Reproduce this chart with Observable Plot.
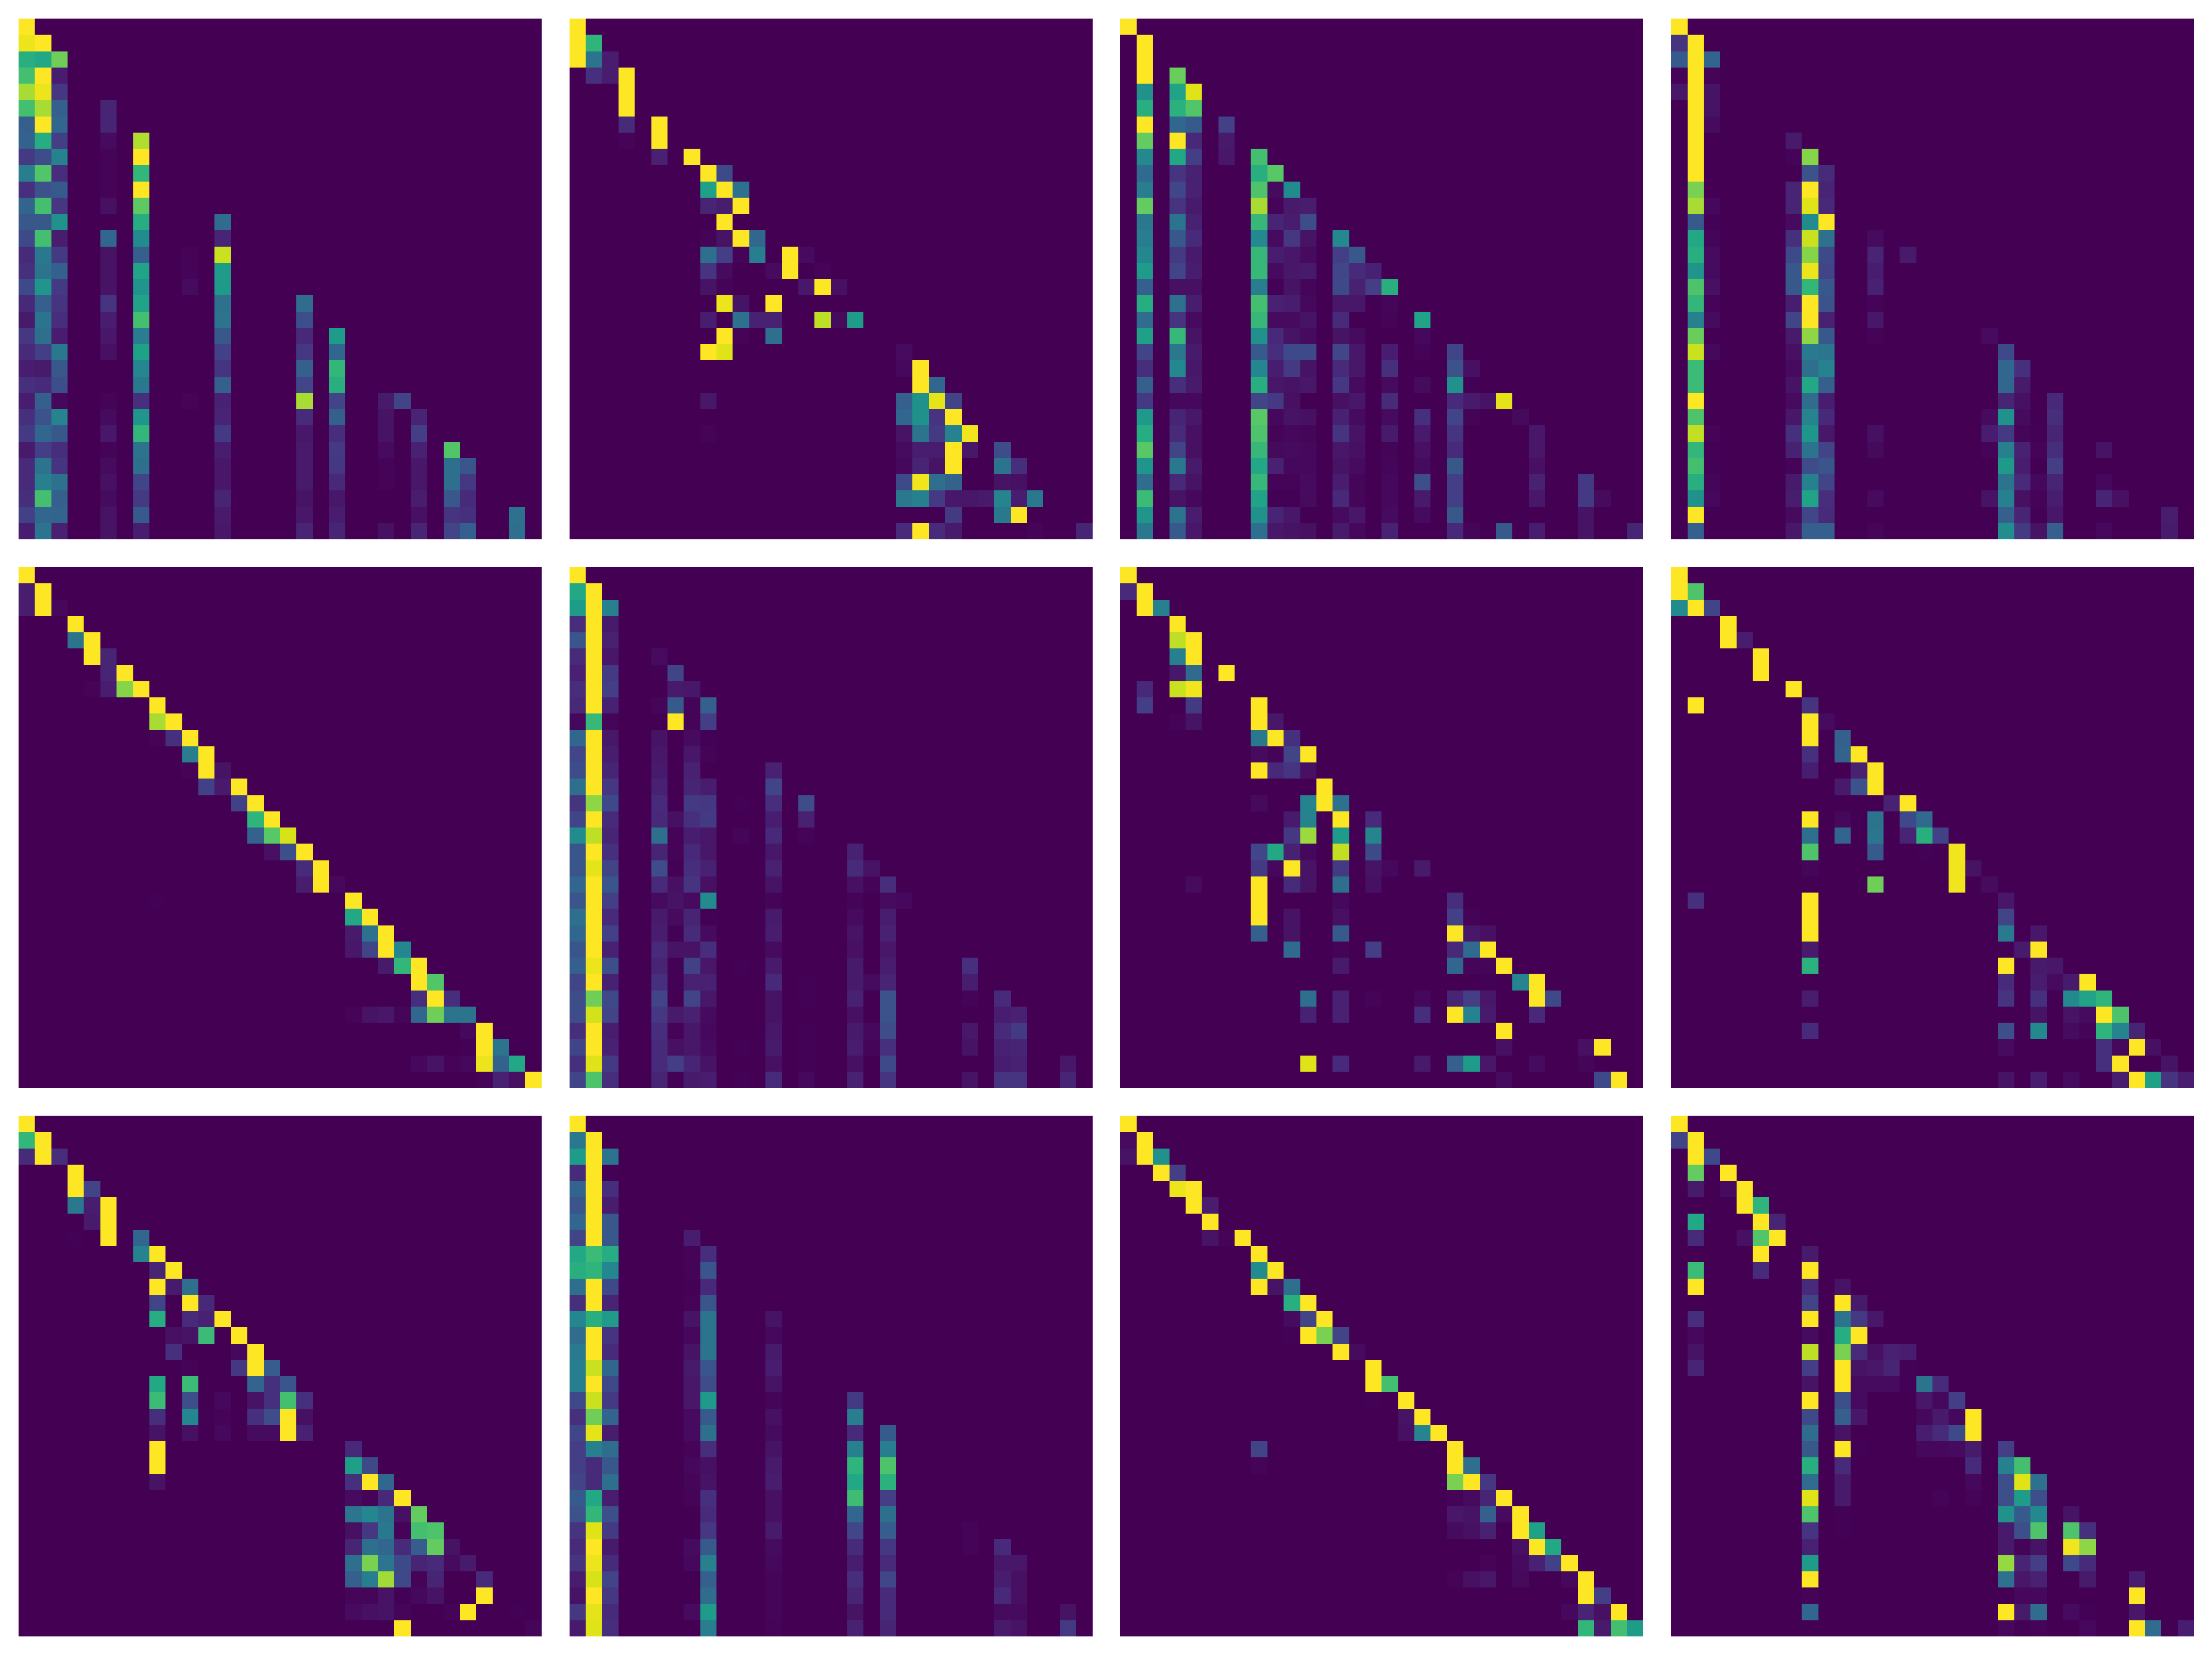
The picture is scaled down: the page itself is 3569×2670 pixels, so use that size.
<!DOCTYPE html>
<html>
<head>
<meta charset="utf-8">
<style>html,body{margin:0;padding:0;background:#fff}svg{display:block}</style>
<script src="https://cdn.jsdelivr.net/npm/d3@7"></script>
<script src="https://cdn.jsdelivr.net/npm/@observablehq/plot@0.6"></script>
</head>
<body>
<div id="chart"></div>
<script>
// Each row of a panel maps column index -> value (missing = 0).
const panel1 = [
{0:1},{0:.97,1:1},{0:.63,1:.6,2:.78},{0:.7,1:1,2:.08},{0:.87,1:.97,2:.16},
{0:.7,1:.87,2:.3,5:.1},{0:.3,1:1,2:.33,5:.1},{0:.31,1:.62,2:.18,5:.03,7:.88},
{0:.17,1:.23,2:.44,5:.01,7:1},{0:.42,1:.73,2:.13,5:.01,7:.66},{0:.14,1:.25,2:.28,5:.01,7:1},
{0:.32,1:.7,2:.16,5:.04,7:.75},{0:.27,1:.27,2:.5,7:.62,12:.35},{0:.22,1:.7,2:.08,5:.33,7:.48,12:.1},
{0:.12,1:.4,2:.17,5:.05,7:.3,10:.01,12:.92},{0:.14,1:.38,2:.3,5:.05,7:.58,10:.01,12:.55},
{0:.22,1:.52,2:.17,5:.05,7:.52,10:.03,12:.54},{0:.11,1:.3,2:.15,5:.15,7:.58,12:.37,17:.35},
{0:.07,1:.38,2:.13,5:.08,7:.7,12:.38,17:.24},{0:.16,1:.36,2:.08,5:.06,7:.42,12:.27,17:.11,19:.55},
{0:.12,1:.18,2:.4,5:.04,7:.57,12:.19,17:.16,19:.33},{0:.08,1:.07,2:.27,7:.46,12:.15,17:.3,19:.66},
{0:.14,1:.12,2:.24,7:.4,12:.3,17:.21,19:.63},{0:.08,1:.3,2:.02,5:.01,7:.14,10:.01,12:.09,17:.87,19:.2,22:.07,23:.2},
{0:.14,1:.25,2:.45,5:.03,7:.52,12:.1,17:.12,19:.3,22:.05,24:.1},{0:.17,1:.33,2:.27,5:.06,7:.66,12:.17,17:.06,19:.13,22:.05,24:.18},
{0:.07,1:.18,2:.13,5:.01,7:.38,12:.08,17:.07,19:.17,22:.03,24:.09,26:.73},{0:.12,1:.38,2:.15,5:.03,7:.36,12:.06,17:.07,19:.16,22:.01,24:.06,26:.36,27:.26},
{0:.12,1:.43,2:.37,5:.04,7:.2,12:.06,17:.07,19:.11,22:.01,24:.06,26:.36,27:.16},{0:.13,1:.7,2:.3,5:.03,7:.17,12:.1,17:.05,19:.06,24:.08,26:.27,27:.12},
{0:.19,1:.33,2:.32,5:.05,7:.28,12:.07,17:.06,19:.08,24:.04,26:.15,27:.14,30:.37},{0:.08,1:.38,2:.09,5:.05,7:.08,12:.06,17:.1,19:.1,22:.04,24:.1,26:.2,27:.3,30:.36}
];
const panel2 = [
{0:1},{0:1,1:.65},{0:1,1:.38,2:.08},{1:.14,2:.08,3:1},{3:1},{3:1},{3:.12,5:1},{3:.01,5:1},{5:.09,7:1},
{8:1,9:.22},{8:.57,9:1,10:.37},{8:.1,9:.08,10:1},{9:1},{8:.01,9:.05,10:1,11:.33},
{8:.36,9:.18,10:.01,11:.42,13:1,14:.03},{8:.15,9:.03,12:.03,13:1,15:.01},{8:.05,9:.01,14:.06,15:1,16:.04},
{9:.97,10:.05,12:1},{8:.08,10:.37,11:.09,12:.09,15:.9,16:.03,17:.55},{9:1,10:.01,12:.36},{8:1,9:.95,20:.03},
{20:.02,21:1},{21:1,22:.33},{8:.06,20:.3,21:.5,22:.96,23:.2},{20:.33,21:.5,22:.15,23:1},
{8:.01,20:.05,21:.38,22:.17,23:.44,24:.98},{20:.03,21:.08,22:.08,23:1,24:.06,26:.23},{20:.02,21:.1,22:.05,23:1,26:.38,27:.13},
{20:.22,21:.98,22:.36,23:.31,26:.05,27:.04},{20:.4,21:.43,22:.17,23:.06,24:.06,25:.07,26:.45,27:.08,28:.4},
{23:.17,26:.4,27:1},{20:.12,21:1,22:.12,23:.07,28:.01,31:.1}
];
const panel3 = [
{0:1},{1:1},{1:1},{1:1,3:.77},{1:.5,3:.58,4:.95},{1:.63,3:.64,4:.73},{1:1,3:.33,4:.28,6:.19},{1:.76,3:1,4:.11,6:.07},
{1:.47,3:.6,4:.18,6:.06,8:.7},{1:.34,3:.15,4:.09,8:.63,9:.74},{1:.42,3:.21,4:.09,8:.72,9:.03,10:.48},
{1:.76,3:.15,4:.07,8:.87,9:.01,10:.07,11:.08},{1:.4,3:.38,4:.09,8:.67,9:.1,10:.08,11:.23},
{1:.42,3:.27,4:.12,8:.47,9:.03,10:.16,11:.05,13:.47},{1:.46,3:.17,4:.07,8:.67,9:.08,10:.06,11:.03,13:.18,14:.27},
{1:.55,3:.2,4:.08,8:.67,9:.03,10:.06,11:.07,13:.21,14:.12,15:.09},{1:.3,3:.04,4:.04,8:.42,9:.005,10:.05,11:.015,13:.22,14:.09,15:.18,16:.63},
{1:.62,3:.37,4:.08,8:.7,9:.09,10:.08,11:.02,13:.06,14:.06,16:.015},{1:.35,3:.15,4:.03,8:.67,9:.03,10:.03,11:.05,13:.12,16:.01,18:.58},
{1:.57,3:.67,4:.05,8:.5,9:.11,10:.05,11:.03,13:.05,14:.03,18:.02},{1:.2,3:.4,4:.07,8:.28,9:.13,10:.22,11:.22,13:.21,14:.06,16:.08,18:.01,20:.2},
{1:.13,3:.47,4:.06,8:.46,9:.08,10:.17,11:.05,13:.12,14:.06,16:.14,20:.25,21:.04},{1:.3,3:.13,4:.07,8:.63,9:.06,10:.05,11:.06,13:.16,14:.03,16:.03,18:.03,20:.5,21:.005},
{1:.17,3:.02,4:.02,8:.2,9:.17,10:.04,13:.04,14:.06,16:.12,20:.12,21:.07,22:.05,23:.96},{1:.54,3:.1,4:.06,8:.74,9:.02,10:.05,11:.04,13:.09,14:.03,16:.03,18:.14,20:.2,21:.01,24:.025},
{1:.62,3:.12,4:.04,8:.72,9:.01,10:.02,11:.015,13:.15,14:.05,16:.07,18:.07,20:.15,25:.06},{1:.74,3:.2,4:.04,8:.67,9:.025,10:.03,11:.02,13:.06,14:.04,16:.01,18:.04,20:.12,25:.06},
{1:.52,3:.4,4:.07,8:.6,9:.09,10:.02,11:.02,13:.05,14:.03,16:.015,18:.03,20:.27,25:.04},{1:.35,3:.11,4:.05,8:.67,9:.01,10:.01,11:.03,13:.08,14:.015,16:.02,18:.24,20:.18,25:.09,28:.17},
{1:.68,3:.05,4:.02,8:.58,9:.005,10:.005,11:.03,13:.11,14:.015,16:.02,18:.07,20:.18,25:.06,28:.17,29:.03},{1:.52,3:.38,4:.08,8:.5,9:.1,10:.06,13:.03,14:.06,16:.03,18:.03,20:.27,28:.05},
{1:.4,3:.28,4:.06,8:.36,9:.06,10:.05,11:.04,13:.07,14:.02,16:.09,20:.11,21:.015,23:.28,25:.08,28:.05,31:.1}
];
const panel4 = [
{0:1},{0:.15,1:1},{0:.28,1:1,2:.32},{0:.01,1:1,2:.01},{0:.06,1:1,2:.05},{1:1,2:.05},{1:1,2:.03},{1:1,7:.07},{1:1,7:.01,8:.82},{1:1,8:.25,9:.12},
{1:.8,7:.1,8:1,9:.1},{1:.87,2:.02,7:.1,8:.95,9:.11},{1:.28,2:.005,7:.03,8:.48,9:1},{1:.6,2:.015,7:.14,8:.92,9:.37,12:.03},
{1:.63,2:.03,7:.22,8:.82,9:.22,12:.1,14:.07},{1:.52,2:.03,7:.27,8:.97,9:.2,12:.08},{1:.72,2:.04,7:.27,8:.66,9:.27,12:.09},
{1:.66,2:.01,7:.08,8:1,9:.25,12:.01},{1:.43,2:.03,7:.2,8:1,9:.09,12:.06},{1:.77,7:.07,8:.83,9:.27,12:.01,19:.03},
{1:.92,2:.02,7:.04,8:.41,9:.39,20:.22},{1:.68,7:.03,8:.36,9:.44,20:.33,21:.14},{1:.68,7:.05,8:.6,9:.3,20:.33,21:.07},
{1:1,7:.03,8:.35,9:.08,20:.1,21:.04,23:.11},{1:.72,7:.06,8:.45,9:.11,19:.03,20:.5,21:.03,23:.13},
{1:.91,2:.01,7:.14,8:.52,9:.06,12:.04,19:.08,20:.17,21:.015,22:.005,23:.1},{1:.66,2:.005,7:.09,8:.38,9:.2,12:.025,19:.01,20:.43,21:.09,22:.01,23:.13,26:.05},
{1:.7,2:.005,7:.01,8:.23,9:.26,20:.54,21:.08,23:.18},{1:.63,2:.015,7:.07,8:.43,9:.2,20:.38,21:.12,22:.02,23:.1,26:.02},
{1:.5,2:.02,7:.08,8:.58,9:.13,12:.03,19:.05,20:.43,21:.04,22:.01,23:.08,26:.1,27:.04},{1:1,7:.03,8:.21,9:.12,20:.3,21:.1,22:.005,23:.06,30:.08},
{1:.3,7:.06,8:.3,9:.3,12:.015,20:.49,21:.17,22:.05,23:.3,26:.02,30:.07}
];
const panel5 = [
{0:1},{0:.08,1:1},{0:.08,1:1,2:.02},{3:1},{3:.38,4:1},{4:1,5:.1},{5:.1,6:1},{4:.01,5:.08,6:.82,7:1},{8:1},{8:.87,9:1},
{8:.01,9:.14,10:1},{10:.42,11:1},{10:.01,11:1,12:.05},{11:.19,12:.07,13:1},{13:.19,14:1},{14:.65,15:1},{14:.31,15:.74,16:.94},
{15:.04,16:.24,17:1},{17:.12,18:1},{17:.08,18:1,19:.02},{8:.005,20:1},{20:.6,21:1},{20:.07,21:.37,22:1},{20:.06,21:.2,22:1,23:.46},
{22:.07,23:.66,24:1},{24:1,25:.73},{24:.13,25:1,26:.13},{20:.01,21:.05,22:.06,23:.015,24:.33,25:.78,26:.38,27:.38},
{27:.02,28:1},{27:.005,28:1,29:.38},{24:.02,25:.05,26:.01,27:.02,28:.97,29:.31,30:.6},{28:.01,29:.09,30:.04,31:1}
];
const panel6 = [
{0:1},{0:.6,1:1},{0:.55,1:1,2:.43},{0:.13,1:1,2:.07},{0:.26,1:1,2:.09},{0:.12,1:1,2:.06,5:.03},{0:.09,1:1,2:.17,5:.005,6:.2},
{0:.13,1:1,2:.18,6:.07,7:.06},{0:.11,1:1,2:.09,5:.015,6:.28,7:.01,8:.3},{0:.02,1:.67,2:.015,6:1,7:.01,8:.18},
{0:.33,1:1,2:.06,5:.05,7:.03,8:.005},{0:.21,1:1,2:.08,5:.06,7:.06,8:.01},{0:.23,1:1,2:.1,5:.07,7:.09,12:.09},
{0:.36,1:1,2:.16,5:.09,7:.1,8:.08,12:.2},{0:.15,1:.83,2:.22,5:.12,7:.17,8:.16,10:.005,12:.13,14:.23},
{0:.2,1:1,2:.12,5:.11,6:.04,7:.14,8:.17,12:.08,14:.09},{0:.48,1:.9,2:.1,5:.36,6:.01,7:.08,8:.06,10:.015,12:.11,14:.01},
{0:.26,1:1,2:.14,5:.1,6:.01,7:.11,8:.06,12:.06,17:.09},{0:.26,1:.96,2:.2,5:.23,6:.005,7:.13,8:.09,12:.09,17:.12,18:.05},
{0:.33,1:1,2:.26,5:.12,6:.04,7:.15,8:.04,12:.05,17:.04,18:.01,19:.13},{0:.26,1:1,2:.18,5:.03,6:.05,7:.03,8:.48,12:.01,17:.01,19:.03,20:.02},
{0:.36,1:1,2:.12,5:.07,6:.03,7:.1,8:.005,12:.07,17:.03,19:.08},{0:.33,1:1,2:.19,5:.08,6:.005,7:.12,8:.03,12:.08,17:.05,19:.09},
{0:.26,1:1,2:.09,5:.12,6:.05,7:.05,8:.13,12:.03,17:.04,19:.06},{0:.3,1:.97,2:.24,5:.1,6:.005,7:.19,8:.06,10:.005,12:.07,17:.07,19:.08,24:.14},
{0:.2,1:1,2:.09,5:.14,6:.005,7:.09,8:.09,12:.11,14:.005,17:.07,18:.03,19:.1,24:.08},{0:.23,1:.78,2:.22,5:.2,7:.2,8:.06,12:.05,14:.005,17:.09,19:.25,24:.01,26:.12},
{0:.23,1:.93,2:.2,5:.16,6:.07,7:.09,8:.03,12:.05,17:.04,19:.25,26:.08,27:.09},{0:.13,1:1,2:.08,5:.13,6:.01,7:.06,8:.02,12:.06,14:.005,17:.07,18:.02,19:.23,24:.06,26:.12,27:.17},
{0:.2,1:1,2:.09,5:.12,6:.04,7:.06,8:.03,10:.005,12:.07,14:.005,17:.08,18:.015,19:.14,24:.05,26:.09,27:.1},
{0:.14,1:.95,2:.17,5:.12,6:.18,7:.1,8:.05,12:.04,14:.005,17:.04,19:.22,26:.08,27:.09,30:.06},
{0:.2,1:.72,2:.13,5:.1,6:.005,7:.07,8:.08,10:.005,12:.12,14:.02,17:.09,19:.15,24:.05,26:.15,27:.15,30:.1}
];
const panel7 = [
{0:1},{0:.12,1:1},{1:1,2:.43},{3:1},{3:.9,4:1},{3:.43,4:1},{3:.06,4:.34,6:1},{1:.11,3:.92,4:.98},{1:.18,4:.17,8:1},{3:.01,4:.05,8:1,9:.06},
{8:.4,9:1,10:.14},{8:.03,9:.01,10:.2,11:1},{8:1,9:.11,10:.15,11:.04},{12:1},{8:.025,11:.44,12:1,13:.37},{10:.07,11:.44,13:1,15:.12},
{10:.16,11:.85,13:.55,15:.45},{8:.21,9:.6,10:.09,11:.02,13:.91,15:.22},{8:.17,9:.02,10:1,11:.05,13:.17,15:.05,16:.02,18:.07},
{4:.03,8:1,10:.12,11:.05,13:.36,15:.04},{8:1,13:.02,20:.13},{8:1,10:.05,13:.04,20:.19,21:.01},{8:.3,10:.05,13:.28,20:1,21:.06,22:.04},
{10:.34,13:.01,15:.18,20:.11,21:.34,22:1},{13:.07,20:.33,21:.015,22:.015,23:1},{22:.005,24:.45,25:1},
{11:.36,13:.09,15:.01,18:.02,20:.1,21:.18,22:.06,25:1,26:.22},{11:.09,13:.09,18:.13,20:1,21:.44,22:.07,25:.11},{23:1},{23:.04,28:.04,29:1},
{11:.95,13:.12,18:.07,20:.3,21:.55,22:.06,25:.03,28:.015},{23:.03,29:.22,30:1}
];
const panel8 = [
{0:1},{0:1,1:.72},{0:.48,1:1,2:.2},{3:1},{3:1,4:.08},{5:1},{5:1},{7:1},{1:1,8:.15},{8:1,9:.03},{8:1,10:.3},{8:.14,10:.31,11:1},
{8:.08,11:.09,12:1},{10:.07,11:.25,12:1},{13:.09,14:1},{8:1,10:.02,12:.38,14:.22,15:.34},{8:.36,10:.32,12:.39,14:.1,15:.63,16:.19},
{8:.72,12:.28,15:.005,17:.98},{8:.015,17:.98,18:.05},{12:.78,17:.98,19:.03},{1:.14,8:1,20:.06},{8:1,20:.2},{8:1,20:.41,22:.06},
{8:.07,20:.005,21:.07,22:1},{8:.64,20:1,22:.07,23:.06},{20:.12,22:.08,23:.03,24:.07,25:1},{8:.08,20:.15,22:.14,24:.47,25:.58,26:.65},
{22:.05,24:.05,25:.03,26:1,27:.72},{8:.12,20:.24,22:.47,24:.03,25:.01,26:.65,27:.45,28:.1},{20:.03,26:.14,27:.02,28:1,29:.04},
{26:.14,27:1,30:.05},{20:.05,22:.08,24:.03,27:.08,28:1,29:.57,30:.15,31:.08}
];
const panel9 = [
{0:1},{0:.66,1:1},{0:.12,1:1,2:.13},{3:1},{3:1,4:.2},{3:.4,4:.08,5:1},{4:.07,5:1},{3:.005,5:1,7:.33},{7:.44,8:1},{8:.1,9:1},
{8:1,9:.07,10:.36},{8:.2,10:1,11:.11},{8:.62,10:.12,11:.09,12:1},{9:.04,10:.05,11:.68,13:1},{9:.14,13:.02,14:1},{10:.01,13:.16,14:1,15:.29},
{8:.6,10:.68,14:.32,15:.14,16:.26},{8:.68,10:.24,12:.02,14:.05,15:.14,16:.7,17:.14},{8:.13,10:.46,11:.005,12:.01,14:.14,15:.23,16:1,17:.04},
{8:.05,10:.04,12:.02,14:.03,15:.03,16:1,17:.09},{8:1,20:.11},{8:1,20:.56,21:.22},{8:.05,20:.14,21:1,22:.33},{20:.03,21:.01,22:.11,23:1},
{20:.39,21:.46,22:.38,23:.04,24:.76},{20:.04,21:.16,22:.4,23:.01,24:.7,25:.72},{20:.1,21:.36,22:.33,23:.12,24:.29,25:.76,26:.05},
{20:.36,21:.8,22:.39,23:.22,24:.1,25:.12,26:.03,27:.07},{20:.3,21:.42,22:.86,23:.22,24:.01,25:.1,28:.12},{20:.015,21:.015,22:.05,23:.005,24:.02,25:.05,28:1},
{20:.03,21:.04,22:.05,23:.015,26:.01,27:1,30:.005},{23:1,31:.015}
];
const panel10 = [
{0:1},{0:.4,1:1},{0:.55,1:1,2:.38},{0:.12,1:1,2:.005},{0:.32,1:1,2:.13},{0:.26,1:1,2:.08},{0:.33,1:1,2:.27},{0:.2,1:1,2:.27,7:.08},
{0:.6,1:.68,2:.62,7:.01,8:.13},{0:.63,1:.65,2:.46,7:.01,8:.26},{0:.36,1:1,2:.22,7:.005,8:.11},{0:.14,1:1,2:.1,7:.01,8:.26},
{0:.46,1:.63,2:.55,7:.05,8:.38,12:.05},{0:.35,1:1,2:.15,7:.02,8:.38,12:.02},{0:.41,1:1,2:.12,7:.05,8:.38,12:.07},{0:.42,1:.92,2:.33,7:.07,8:.26,12:.08},
{0:.42,1:1,2:.22,7:.06,8:.23,12:.05},{0:.22,1:.92,2:.17,7:.06,8:.54,12:.015,17:.17},{0:.14,1:.78,2:.32,7:.03,8:.28,12:.04,17:.42},
{0:.21,1:.96,2:.08,7:.03,8:.36,12:.03,17:.12,19:.28},{0:.18,1:.43,2:.35,7:.01,8:.13,12:.05,17:.43,19:.42},{0:.18,1:.12,2:.27,7:.02,8:.04,12:.07,17:.65,19:.72},
{0:.2,1:.12,2:.36,7:.015,8:.05,12:.08,17:.6,19:.64},{0:.28,1:.6,2:.08,7:.01,8:.14,12:.04,17:.69,19:.18},{0:.25,1:.66,2:.24,8:.12,12:.04,17:.33,19:.36},
{0:.15,1:.95,2:.17,8:.16,12:.07,17:.21,19:.29,24:.01},{0:.12,1:1,2:.07,7:.03,8:.28,12:.03,17:.12,19:.16,24:.01,26:.12},{0:.15,1:.97,2:.12,7:.02,8:.43,12:.02,17:.08,19:.12,26:.06,27:.06},
{0:.08,1:.94,2:.2,8:.3,12:.015,17:.13,19:.21,26:.08,27:.04},{0:.05,1:1,2:.16,8:.35,12:.015,17:.1,19:.12,26:.11,27:.04},
{0:.16,1:.96,2:.12,7:.03,8:.55,12:.015,17:.05,19:.12,26:.03,27:.03,30:.05},{0:.07,1:.95,2:.13,8:.42,12:.01,17:.09,19:.1,26:.07,27:.05,30:.17}
];
const panel11 = [
{0:1},{0:.03,1:1},{0:.05,1:1,2:.5},{2:1,3:.18},{3:.97,4:1},{4:1,5:.08},{5:1},{5:.05,6:.01,7:1},{8:1},{8:.48,9:1},{8:1,9:.05,10:.36},
{10:.63,11:1},{10:.03,11:.2,12:1},{10:.005,11:1,12:.8,13:.2},{13:1,14:.03},{15:1},{15:1,16:.7},{15:.005,17:1},{17:.05,18:1},{17:.04,18:.45,19:1},
{8:.2,20:1},{8:.01,20:1,21:.36},{20:.8,21:1,22:.16},{20:.01,21:.03,22:.1,23:1},{20:.06,21:.05,22:.3,23:.03,24:1},{20:.03,21:.04,22:.09,24:1,25:.57},
{24:.04,25:1,26:.6},{22:.01,24:.03,25:.09,26:.19,27:1},{20:.01,21:.04,22:.06,24:.025,27:.02,28:1},{28:1,29:.18},{27:.02,28:.1,29:.04,30:1},{28:.66,29:.07,30:.7,31:.55}
];
const panel12 = [
{0:1},{0:.2,1:1},{1:1,2:.22},{1:.76,3:1},{1:.07,3:.03,4:1},{4:1,5:.65},{1:.6,5:1,6:.1},{1:.12,4:.04,5:.73,6:1},{5:1,8:.07},{1:.68,5:.12,8:1},
{1:1,8:.12,10:.05},{8:.2,10:1,11:.07},{1:.13,8:1,10:.38,11:.17,12:.06},{1:.02,8:.03,10:.62,11:1},{1:.05,8:.9,10:.8,11:.12,12:.04,13:.09,14:.08},
{1:.1,8:.18,10:1,11:.05,12:.06,13:.1,14:.005},{8:.05,10:1,11:.03,12:.03,13:.03,14:.005,15:.38,16:.12},{8:1,10:.24,11:.03,15:.06,16:.02,17:.18},
{8:.22,10:.3,11:.06,15:.02,16:.07,17:.02,18:1},{8:.35,10:.05,15:.08,16:.12,17:.22,18:1},{8:.27,10:1,11:.005,15:.02,16:.02,17:.03,18:.07,20:.18},
{8:.63,10:.12,18:.12,20:.43,21:.7},{8:.35,10:.07,18:.02,20:.24,21:.95,22:.37},{8:.95,10:.07,16:.01,18:.01,20:.24,21:.55,22:.24},
{8:.72,10:.005,20:.5,21:.28,22:.47,24:.05},{8:.15,10:.005,20:.07,21:.24,22:.72,24:.72,25:.14},{8:.09,20:.07,21:.01,22:.05,24:.98,25:.83},
{8:.55,20:.84,21:.1,22:.18,24:.22,25:.12},{8:1,20:.37,21:.06,22:.09,25:.07,28:.08},{8:.01,21:.02,22:.02,28:1},{8:.33,20:1,21:.07,22:.35,24:.03,25:.005,28:.06},
{20:.02,21:.005,22:.01,25:.02,28:1,29:.35,31:.08}
];
const panels = [panel1,panel2,panel3,panel4,panel5,panel6,panel7,panel8,panel9,panel10,panel11,panel12];
const indices = d3.range(32);

const cells = panels.flatMap((panel, p) =>
  indices.flatMap(r => indices.map(c => ({
    panelCol: p % 4,
    panelRow: Math.floor(p / 4),
    row: r,
    col: c,
    value: panel[r][c] || 0
  })))
);

const chart = Plot.plot({
  width: 3569,
  height: 2670,
  marginLeft: 30,
  marginRight: 29,
  marginTop: 30,
  marginBottom: 30,
  style: {background: "#fff"},
  x: {type: "band", domain: indices, padding: 0, round: false, axis: null},
  y: {type: "band", domain: indices, padding: 0, round: false, axis: null},
  fx: {domain: [0,1,2,3], paddingInner: 45/889, paddingOuter: 0, round: false, axis: null},
  fy: {domain: [0,1,2], paddingInner: 45/885, paddingOuter: 0, round: false, axis: null},
  color: {type: "linear", scheme: "viridis", domain: [0,1]},
  marks: [
    Plot.cell(cells, {
      x: "col", y: "row", fx: "panelCol", fy: "panelRow",
      fill: "value", inset: 0, shapeRendering: "crispEdges"
    })
  ]
});
document.getElementById("chart").appendChild(chart);
</script>
</body>
</html>
